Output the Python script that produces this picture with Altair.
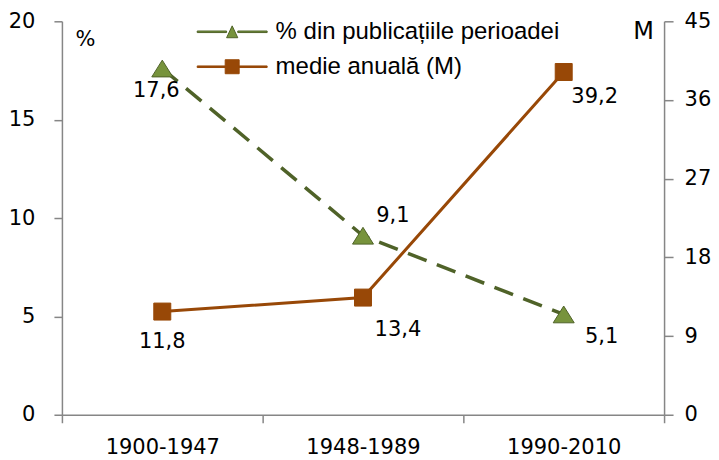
import altair as alt
import pandas as pd

# ---- data ----
periods = ["1900-1947", "1948-1989", "1990-2010"]
pct_values = [17.6, 9.1, 5.1]
pct_labels = ["17,6", "9,1", "5,1"]
mean_values = [11.8, 13.4, 39.2]
mean_labels = ["11,8", "13,4", "39,2"]
series_names = ["% din publicațiile perioadei", "medie anuală (M)"]
left_ticks = [0, 5, 10, 15, 20]
right_ticks = [0, 9, 18, 27, 36, 45]

# ---- styles ----
GREEN = "#4F6228"
GREEN_FILL = "#77933C"
ORANGE = "#984807"
AXIS = "#868686"
FONT = "DejaVu Sans"
LEG_FONT = "Liberation Sans"
FS = 21

pct_offsets = [(-6, 23), (30, -20), (38, 23)]
mean_offsets = [(0, 30), (35, 32), (31, 25)]

TRI = "M0,-0.8L1,0.8L-1,0.8Z"
LEG_TRI = ("M-2,-0.045H-0.32V0.045H-2Z M0.32,-0.045H2V0.045H0.32Z "
           "M0,-0.34L0.32,0.34L-0.32,0.34Z")
LEG_SQ = ("M-2,-0.045H-0.4V0.045H-2Z M0.4,-0.045H2V0.045H0.4Z "
          "M-0.4,-0.4H0.4V0.4H-0.4Z")

pct_df = pd.DataFrame({"period": periods, "value": pct_values, "label": pct_labels})
mean_df = pd.DataFrame({"period": periods, "value": mean_values, "label": mean_labels})
legend_df = pd.DataFrame({"series": series_names})

x_enc = alt.X(
    "period:N", sort=periods, bandPosition=0.5,
    scale=alt.Scale(type="band", domain=periods, paddingInner=0, paddingOuter=0),
    axis=alt.Axis(title=None, tickBand="extent", labelAngle=0, labelFont=FONT,
                  labelFontSize=FS, labelColor="black", labelPadding=14,
                  tickSize=8, tickColor=AXIS, tickWidth=1.5, domainColor=AXIS,
                  domainWidth=1.5, grid=False),
)

def y_axis(orient, title, values, tx, ty, tfs):
    return alt.Axis(orient=orient, values=values, title=title, titleAngle=0,
                    titleX=tx, titleY=ty, titleAlign="center", titleBaseline="middle",
                    titleFont=FONT, titleFontSize=tfs, titleFontWeight="normal",
                    titleColor="black", labelFont=FONT, labelFontSize=FS,
                    labelColor="black", labelPadding=19 if orient == "left" else 11,
                    tickSize=8 if orient == "left" else 9, tickColor=AXIS,
                    tickWidth=1.5, domainColor=AXIS, domainWidth=1.5, grid=False)

y_left = alt.Y("value:Q", scale=alt.Scale(domain=[0, 20], nice=False),
               axis=y_axis("left", "%", left_ticks, 23, 18, 21))
y_right = alt.Y("value:Q", scale=alt.Scale(domain=[0, 45], nice=False),
                axis=y_axis("right", "M", right_ticks, -21, 10, 24))

# ---- left series ----
pct_base = alt.Chart(pct_df)
pct_line = pct_base.mark_line(color=GREEN, strokeWidth=3.5, strokeDash=[20, 11]).encode(x=x_enc, y=y_left)
pct_pts = pct_base.mark_point(shape=TRI, filled=True, fill=GREEN_FILL, stroke=GREEN,
                              strokeWidth=1, opacity=1, size=441).encode(x=x_enc, y=y_left)
pct_texts = [
    pct_base.transform_filter(alt.datum.period == p)
    .mark_text(dx=dx, dy=dy, font=FONT, fontSize=FS, color="black", baseline="middle")
    .encode(x=x_enc, y=y_left, text="label:N")
    for p, (dx, dy) in zip(periods, pct_offsets)
]
left = alt.layer(pct_line, pct_pts, *pct_texts)

# ---- right series ----
mean_base = alt.Chart(mean_df)
mean_line = mean_base.mark_line(color=ORANGE, strokeWidth=3).encode(x=x_enc, y=y_right)
mean_pts = mean_base.mark_point(shape="square", filled=True, fill=ORANGE, stroke=ORANGE,
                                strokeWidth=1, opacity=1, size=289).encode(x=x_enc, y=y_right)
mean_texts = [
    mean_base.transform_filter(alt.datum.period == p)
    .mark_text(dx=dx, dy=dy, font=FONT, fontSize=FS, color="black", baseline="middle")
    .encode(x=x_enc, y=y_right, text="label:N")
    for p, (dx, dy) in zip(periods, mean_offsets)
]
right = alt.layer(mean_line, mean_pts, *mean_texts)

# ---- legend (scales only, no drawn data) ----
leg = alt.Legend(orient="none", legendX=152.5, legendY=-7.5, title=None,
                 labelFont=LEG_FONT, labelFontSize=24, labelColor="black",
                 labelLimit=600, labelOffset=25.5, symbolSize=1225, rowPadding=5,
                 padding=0, symbolStrokeWidth=1, symbolOpacity=1, direction="vertical")
legend_layer = alt.Chart(legend_df).transform_filter("false").mark_point(
    filled=True, opacity=1, strokeWidth=1).encode(
    fill=alt.Fill("series:N", scale=alt.Scale(domain=series_names, range=[GREEN_FILL, ORANGE]), legend=leg),
    stroke=alt.Stroke("series:N", scale=alt.Scale(domain=series_names, range=[GREEN, ORANGE]), legend=leg),
    shape=alt.Shape("series:N", scale=alt.Scale(domain=series_names, range=[LEG_TRI, LEG_SQ]), legend=leg),
)

chart = alt.layer(left, right, legend_layer).resolve_scale(y="independent").properties(
    width=603, height=394,
    padding={"left": 0, "top": 2, "right": 0, "bottom": 0},
    background="white",
).configure_view(stroke=None)

chart.save("out.html", embed_options={"renderer": "svg", "actions": False})
